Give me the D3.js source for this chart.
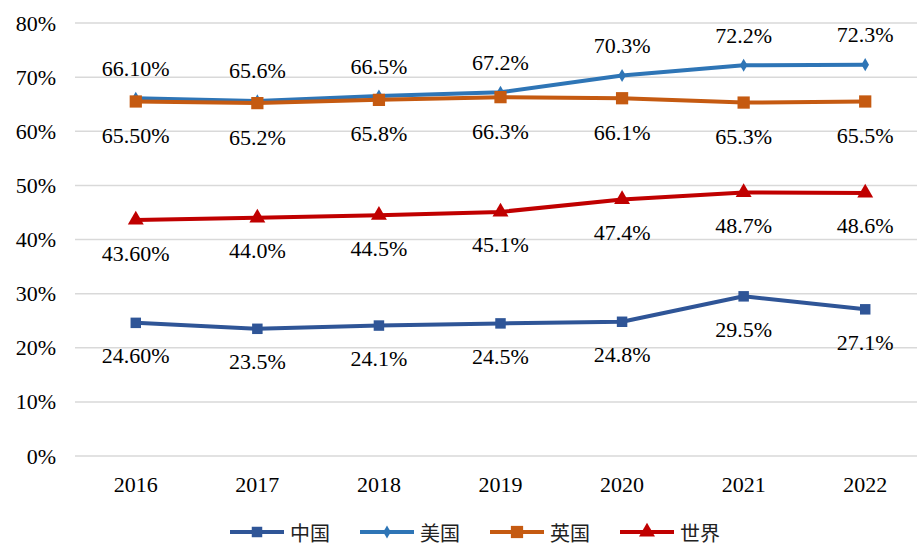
<!DOCTYPE html>
<html>
<head>
<meta charset="utf-8">
<script src="https://cdn.jsdelivr.net/npm/d3@7"></script>
<style>
  body { margin: 0; background: #fff; }
  svg { display: block; }
</style>
</head>
<body>
<div class="canva"></div>
<script>
const years = ["2016", "2017", "2018", "2019", "2020", "2021", "2022"];
const china = [24.6, 23.5, 24.1, 24.5, 24.8, 29.5, 27.1];
const usa = [66.1, 65.6, 66.5, 67.2, 70.3, 72.2, 72.3];
const uk = [65.5, 65.2, 65.8, 66.3, 66.1, 65.3, 65.5];
const world = [43.6, 44.0, 44.5, 45.1, 47.4, 48.7, 48.6];
const yTicks = [0, 10, 20, 30, 40, 50, 60, 70, 80];
const seriesNames = ["中国", "美国", "英国", "世界"];

const width = 917, height = 546;
const serif = "'Liberation Serif', 'Times New Roman', serif";

const svg = d3.select(".canva").append("svg")
    .attr("width", width)
    .attr("height", height);

const x = d3.scaleBand()
    .domain(years)
    .range([75, 926]);

const y = d3.scaleLinear()
    .domain([0, 80])
    .range([456, 23]);

// gridlines
svg.append("g")
    .selectAll("line")
    .data(yTicks)
    .enter().append("line")
    .attr("x1", 75)
    .attr("x2", width)
    .attr("y1", d => y(d))
    .attr("y2", d => y(d))
    .attr("stroke", "#d9d9d9")
    .attr("stroke-width", 1.5);

// y axis labels
const yAxis = d3.axisLeft(y).tickValues(yTicks).tickFormat(d => d + "%").tickSize(0).tickPadding(0);
const yAxisGroup = svg.append("g")
    .attr("transform", "translate(56,0)")
    .call(yAxis);
yAxisGroup.select(".domain").remove();
yAxisGroup.selectAll("text")
    .attr("font-family", serif)
    .attr("font-size", 22)
    .attr("fill", "#000");

// x axis labels
const xAxis = d3.axisBottom(x).tickSize(0).tickPadding(0);
const xAxisGroup = svg.append("g")
    .attr("transform", "translate(0,476)")
    .call(xAxis);
xAxisGroup.select(".domain").remove();
xAxisGroup.selectAll("text")
    .attr("font-family", serif)
    .attr("font-size", 22)
    .attr("fill", "#000");

const series = [
  {name: seriesNames[0], values: china, color: "#2f5597", marker: "square", size: 110, labelDy: 33},
  {name: seriesNames[1], values: usa, color: "#2e75b6", marker: "diamond", size: 50, labelDy: -30},
  {name: seriesNames[2], values: uk, color: "#c55a11", marker: "square", size: 150, labelDy: 34},
  {name: seriesNames[3], values: world, color: "#c00000", marker: "triangle", size: 110, labelDy: 33}
];

const symbolType = {square: d3.symbolSquare, diamond: d3.symbolDiamond, triangle: d3.symbolTriangle};
const cx = d => x(d) + x.bandwidth() / 2;

const line = d3.line()
    .x((d, i) => cx(years[i]))
    .y(d => y(d));

// draw lines (china/world first so US/UK sit on top like reference)
const order = [3, 0, 1, 2];
order.forEach(k => {
  const s = series[k];
  const g = svg.append("g");
  g.append("path")
      .attr("d", line(s.values))
      .attr("fill", "none")
      .attr("stroke", s.color)
      .attr("stroke-width", 4)
      .attr("stroke-linejoin", "round");
  g.selectAll("path.mark")
      .data(s.values)
      .enter().append("path")
      .attr("class", "mark")
      .attr("d", d3.symbol().type(symbolType[s.marker]).size(s.size))
      .attr("transform", (d, i) => `translate(${cx(years[i])},${y(d)})`)
      .attr("fill", s.color);
});

// data labels
series.forEach(s => {
  svg.append("g")
    .selectAll("text")
    .data(s.values)
    .enter().append("text")
    .attr("x", (d, i) => cx(years[i]))
    .attr("y", d => y(d) + s.labelDy)
    .attr("text-anchor", "middle")
    .attr("dominant-baseline", "central")
    .attr("font-family", serif)
    .attr("font-size", 22)
    .attr("fill", "#000")
    .text((d, i) => d.toFixed(i === 0 ? 2 : 1) + "%");
});

// legend
const legend = svg.append("g").attr("transform", "translate(230,532)");
series.forEach((s, i) => {
  const g = legend.append("g").attr("transform", `translate(${i * 130},0)`);
  g.append("line")
      .attr("x1", 0).attr("x2", 54)
      .attr("stroke", s.color)
      .attr("stroke-width", 4);
  g.append("path")
      .attr("d", d3.symbol().type(symbolType[s.marker]).size(s.size))
      .attr("transform", "translate(27,0)")
      .attr("fill", s.color);
  g.append("text")
      .attr("x", 60)
      .attr("dominant-baseline", "central")
      .attr("font-family", "'Noto Sans CJK SC', sans-serif")
      .attr("font-size", 20)
      .attr("fill", "#222")
      .text(s.name);
});
</script>
</body>
</html>
